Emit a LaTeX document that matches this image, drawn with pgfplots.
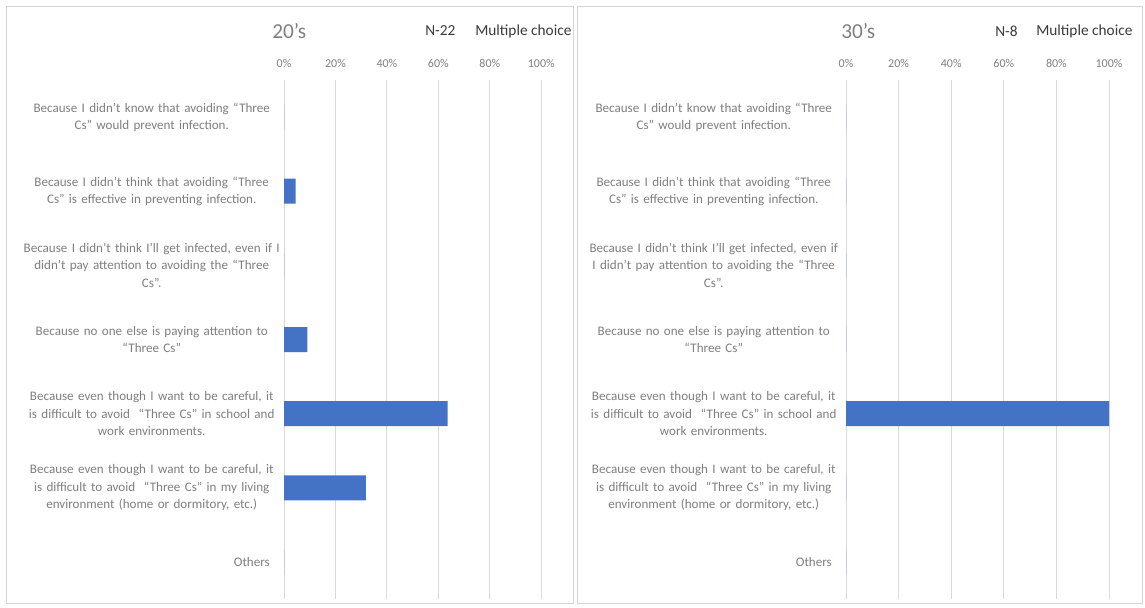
\documentclass[border=0pt]{standalone}
\usepackage{fontspec}
\setmainfont{Carlito}
\usepackage{pgfplots}
\pgfplotsset{compat=1.18}
\definecolor{barblue}{HTML}{4472C4}
\definecolor{gridgray}{HTML}{D9D9D9}
\definecolor{labgray}{HTML}{7F7F7F}
\definecolor{framegray}{HTML}{D4D4D4}
\definecolor{titlegray}{HTML}{808080}
\definecolor{darktext}{HTML}{3A3A3A}

\pgfplotsset{panel/.style={
  xbar, scale only axis, height=389.25pt,
  xmin=0, xmax=1.1, ymin=-0.5, ymax=6.5, y dir=reverse,
  axis line style={draw=none}, major tick length=0pt,
  xtick={0,0.2,0.4,0.6,0.8,1},
  xticklabels={0\%,20\%,40\%,60\%,80\%,100\%},
  xticklabel pos=upper,
  xticklabel style={font=\fontsize{9}{10}\selectfont, text=labgray, yshift=6pt},
  xmajorgrids, grid style={gridgray, line width=0.75pt},
  ytick={0,1,2,3,4,5,6},
  yticklabel style={font=\fontsize{9.8}{13}\selectfont, text=labgray, text width=220pt, align=center, inner sep=0pt, xshift=11pt},
  bar width=18.75pt,
  anchor=south west,
}}

\begin{document}
\begin{tikzpicture}
\fill[white] (0,0) rectangle (858.75pt,455.25pt);
\draw[framegray, line width=0.75pt] (4.5pt,3pt) rectangle (429.75pt,450pt);
\draw[framegray, line width=0.75pt] (432.75pt,3pt) rectangle (856.5pt,450pt);

% Left panel: 20's
\begin{axis}[panel, at={(213pt,6pt)}, width=212.25pt,
  yticklabels={
   {Because I didn't know that avoiding ``Three\\Cs'' would prevent infection.},
   {Because I didn't think that avoiding ``Three\\Cs'' is effective in preventing infection.},
   {Because I didn't think I'll get infected, even if I\\didn't pay attention to avoiding the ``Three\\Cs''.},
   {Because no one else is paying attention to\\``Three Cs''},
   {Because even though I want to be careful, it\\is difficult to avoid\ \ ``Three Cs'' in school and\\work environments.},
   {Because even though I want to be careful, it\\is difficult to avoid\ \ ``Three Cs'' in my living\\environment (home or dormitory, etc.)},
   {\hfill Others\hspace*{21.5pt}}}]
\addplot[fill=barblue, draw=none] coordinates {(0,0) (0.0455,1) (0,2) (0.0909,3) (0.6364,4) (0.3182,5) (0,6)};
\end{axis}

% Right panel: 30's
\begin{axis}[panel, at={(634.5pt,6pt)}, width=217pt,
  yticklabels={
   {Because I didn't know that avoiding ``Three\\Cs'' would prevent infection.},
   {Because I didn't think that avoiding ``Three\\Cs'' is effective in preventing infection.},
   {Because I didn't think I'll get infected, even if\\I didn't pay attention to avoiding the ``Three\\Cs''.},
   {Because no one else is paying attention to\\``Three Cs''},
   {Because even though I want to be careful, it\\is difficult to avoid\ \ ``Three Cs'' in school and\\work environments.},
   {Because even though I want to be careful, it\\is difficult to avoid\ \ ``Three Cs'' in my living\\environment (home or dormitory, etc.)},
   {\hfill Others\hspace*{21.5pt}}}]
\addplot[fill=barblue, draw=none] coordinates {(0,0) (0,1) (0,2) (0,3) (1.0,4) (0,5) (0,6)};
\end{axis}

% Titles
\node[anchor=west, inner sep=0pt, text=titlegray, font=\fontsize{16}{18}\selectfont] at (204pt,431.6pt) {20's};
\node[anchor=west, inner sep=0pt, text=titlegray, font=\fontsize{16}{18}\selectfont] at (630.75pt,431.6pt) {30's};
\begin{scope}
\clip (0,0) rectangle (427.5pt,455.25pt);
\node[anchor=west, inner sep=0pt, text=darktext, font=\fontsize{11.5}{13}\selectfont] at (318.75pt,432pt) {N-22};
\node[anchor=west, inner sep=0pt, text=darktext, font=\fontsize{11.5}{13}\selectfont] at (356.25pt,432pt) {Multiple choice};
\end{scope}
\node[anchor=west, inner sep=0pt, text=darktext, font=\fontsize{11.5}{13}\selectfont] at (746.25pt,432pt) {N-8};
\node[anchor=west, inner sep=0pt, text=darktext, font=\fontsize{11.5}{13}\selectfont] at (777pt,432pt) {Multiple choice};
\end{tikzpicture}
\end{document}
